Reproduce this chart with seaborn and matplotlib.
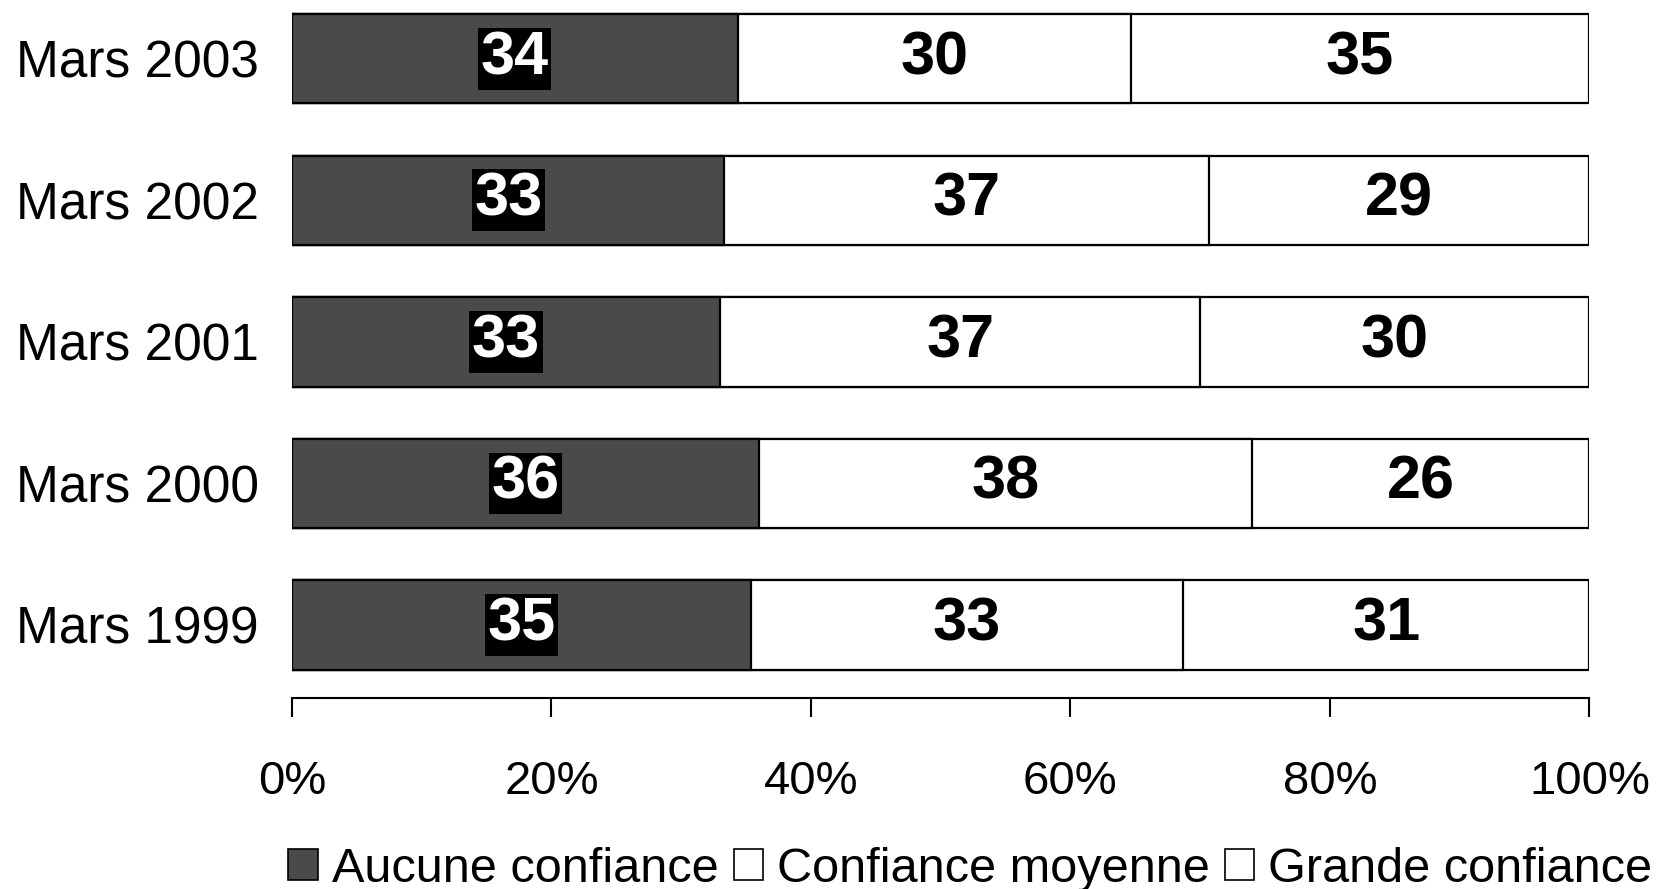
import matplotlib
matplotlib.use("Agg")
import matplotlib.pyplot as plt
import numpy as np
import pandas as pd
import seaborn as sns
from matplotlib.patches import Patch

periods = ["Mars 2003", "Mars 2002", "Mars 2001", "Mars 2000", "Mars 1999"]
aucune = [34, 33, 33, 36, 35]
moyenne = [30, 37, 37, 38, 33]
grande = [35, 29, 30, 26, 31]
series_names = ["Aucune confiance", "Confiance moyenne", "Grande confiance"]
tick_values = [0, 20, 40, 60, 80, 100]
tick_labels = ["0%", "20%", "40%", "60%", "80%", "100%"]

DARK = "#4a4a4a"

sns.set_theme(style="white")
plt.rcParams["font.family"] = ["Liberation Sans", "DejaVu Sans"]
plt.rcParams["text.color"] = "black"
plt.rcParams["xtick.color"] = "black"
plt.rcParams["ytick.color"] = "black"

raw = pd.DataFrame(
    {"period": periods, "aucune": aucune, "moyenne": moyenne, "grande": grande}
)
total = raw[["aucune", "moyenne", "grande"]].sum(axis=1)
frame = raw.copy()
frame["p_aucune"] = raw["aucune"] / total * 100
frame["p_moyenne"] = raw["moyenne"] / total * 100
frame["p_grande"] = raw["grande"] / total * 100
frame["c1"] = frame["p_aucune"]
frame["c2"] = frame["c1"] + frame["p_moyenne"]
frame["c3"] = frame["c2"] + frame["p_grande"]

fig = plt.figure(figsize=(16.59, 8.89), dpi=100)
ax = fig.add_axes([0.176, 0.215, 0.782, 0.785])

bar_kw = dict(orient="h", order=periods, width=0.63, linewidth=1.6,
              edgecolor="black", ax=ax)
sns.barplot(data=frame, x="c3", y="period", color="white", saturation=1, **bar_kw)
sns.barplot(data=frame, x="c2", y="period", color="white", saturation=1, **bar_kw)
sns.barplot(data=frame, x="c1", y="period", color=DARK, saturation=1, **bar_kw)

for i, row in frame.iterrows():
    ax.text(row["c1"] / 2, i, str(row["aucune"]), ha="center", va="center",
            fontsize=44, fontweight="bold", color="white",
            bbox=dict(boxstyle="square,pad=0.04", facecolor="black", edgecolor="none"))
    ax.text((row["c1"] + row["c2"]) / 2, i, str(row["moyenne"]), ha="center",
            va="center", fontsize=44, fontweight="bold", color="black")
    ax.text((row["c2"] + row["c3"]) / 2, i, str(row["grande"]), ha="center",
            va="center", fontsize=44, fontweight="bold", color="black")

ax.set_xlim(0, 100)
ax.set_ylim(4.515, -0.416)
ax.set_xticks(tick_values)
ax.set_xticklabels(tick_labels, fontsize=34)
ax.tick_params(axis="x", direction="out", length=14, width=1.5, color="black",
               pad=31, bottom=True)
ax.tick_params(axis="y", length=0, pad=24, labelsize=37)
ax.set_xlabel("")
ax.set_ylabel("")
for side in ["top", "right", "left"]:
    ax.spines[side].set_visible(False)
ax.spines["bottom"].set_color("black")
ax.spines["bottom"].set_linewidth(1.5)

handles = [
    Patch(facecolor=DARK, edgecolor="black", linewidth=1.2),
    Patch(facecolor="white", edgecolor="black", linewidth=1.2),
    Patch(facecolor="white", edgecolor="black", linewidth=1.2),
]
fig.legend(handles, series_names, loc="center", bbox_to_anchor=(0.585, 0.022),
           ncol=3, frameon=False, fontsize=35, handlelength=0.6, handleheight=0.6,
           handletextpad=0.3, columnspacing=0.3, borderaxespad=0)

fig.savefig("out.png", dpi=100)
